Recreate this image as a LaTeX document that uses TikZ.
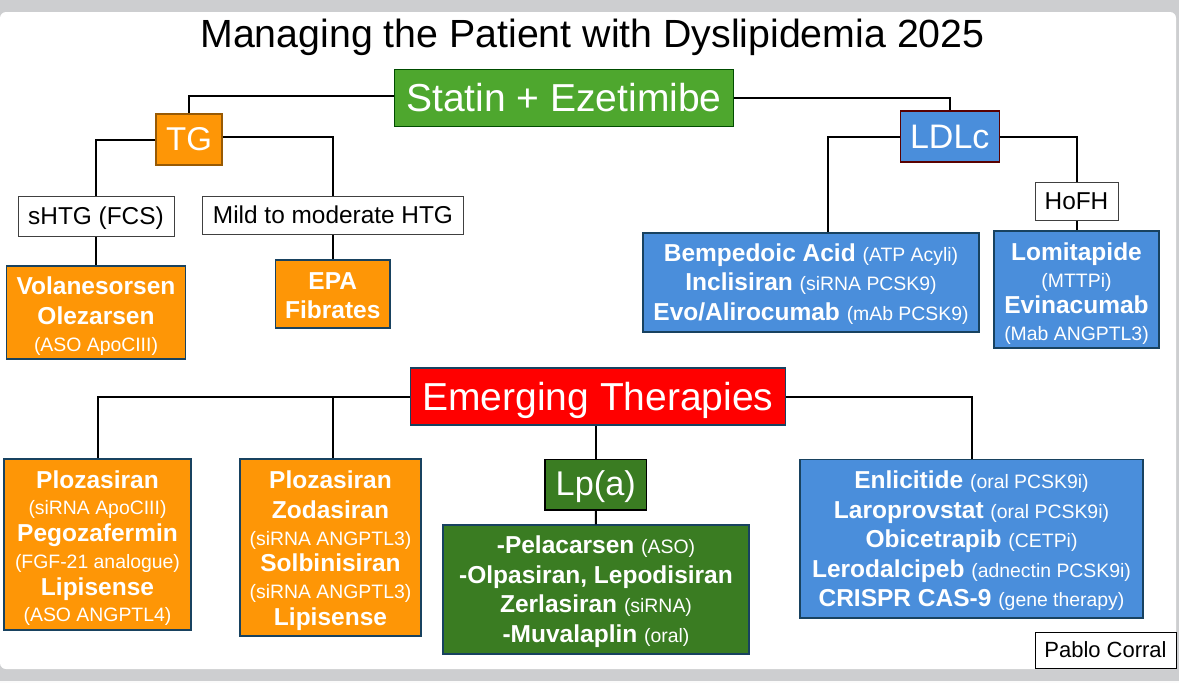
\documentclass[tikz,border=0pt]{standalone}
\usepackage{fontspec}
\setmainfont{Liberation Sans}
\definecolor{bggray}{RGB}{205,206,208}
\definecolor{orangebox}{RGB}{254,150,6}
\definecolor{statingreen}{RGB}{78,167,46}
\definecolor{darkgreen}{RGB}{58,124,34}
\definecolor{bluebox}{RGB}{74,142,219}
\definecolor{edgeblue}{RGB}{24,66,96}
\newcommand{\smtxt}[1]{{\fontsize{19.4}{19.4}\mdseries\selectfont #1}}
\newcommand{\fs}[2]{\fontsize{#1}{#2}\selectfont}
\newcommand{\tup}[1]{\rule{0pt}{#1pt}}
\tikzset{
  x=1pt,y=-1pt,
  box/.style={draw=edgeblue,line width=1.4pt,inner sep=0pt,align=center,text=white},
  drug/.style={box,font=\fs{24.5}{29.6}\bfseries},
  drugtight/.style={box,font=\fs{24.5}{26.7}\bfseries},
  head/.style={box,draw=black!70!green},
  tag/.style={draw=black!75,line width=1pt,fill=white,inner sep=0pt,text=black,font=\fs{24.4}{26}},
  link/.style={draw=black,line width=2pt}
}
\begin{document}
\begin{tikzpicture}
\useasboundingbox (0,0) rectangle (1179,683);
\fill[bggray] (0,0) rectangle (1179,681);
\fill[white!92!bggray] (0,681) rectangle (1179,683);
\fill[white,rounded corners=6pt] (0,12) rectangle (1176,669);
\node[font=\fs{39.3}{42},text=black,inner sep=0pt] (title) at (592.5,37) {Managing the Patient with Dyslipidemia 2025};
\node[head,fill=statingreen,font=\fs{39}{44},minimum width=339pt,minimum height=57pt] (statin) at (564,98) {Statin + Ezetimibe};
\node[head,draw=orangebox!60!black,fill=orangebox,font=\fs{33}{40},minimum width=66pt,minimum height=51pt] (tg) at (189,139.5) {TG};
\node[head,draw=red!35!black,fill=bluebox,font=\fs{34}{40},minimum width=99pt,minimum height=51pt] (ldlc) at (949.75,136.5) {LDLc};
\node[tag,minimum width=156pt,minimum height=40pt] (shtg) at (96,216) {\tup{22}sHTG (FCS)};
\node[tag,minimum width=261pt,minimum height=38pt] (mild) at (333,215) {Mild to moderate HTG};
\node[tag,minimum width=83pt,minimum height=38pt] (hofh) at (1076.5,201) {HoFH};
\node[drug,fill=orangebox,minimum width=179pt,minimum height=93pt] (vol) at (96,312.5) {\tup{25}Volanesorsen\\Olezarsen\\[-3pt]\smtxt{(ASO ApoCIII)}};
\node[drug,fill=orangebox,minimum width=114.5pt,minimum height=68pt] (epa) at (332.75,294) {\tup{20}EPA\\Fibrates};
\node[drug,fill=bluebox,minimum width=336pt,minimum height=99pt] (bemp) at (811,282.5) {\tup{21}Bempedoic Acid \smtxt{(ATP Acyli)}\\Inclisiran \smtxt{(siRNA PCSK9)}\\Evo/Alirocumab \smtxt{(mAb PCSK9)}};
\node[drugtight,fill=bluebox,minimum width=165pt,minimum height=117pt] (lomi) at (1076.5,289.5) {\tup{26}Lomitapide\\\smtxt{(MTTPi)}\\Evinacumab\\\smtxt{(Mab ANGPTL3)}};
\node[head,draw=edgeblue,fill=red,font=\fs{39}{42},minimum width=375pt,minimum height=57pt] (emerg) at (598,396.5) {\tup{36.5}Emerging Therapies};
\node[drugtight,fill=orangebox,minimum width=187pt,minimum height=171pt] (ploa) at (97.5,544.5) {\tup{25}Plozasiran\\\smtxt{(siRNA ApoCIII)}\\Pegozafermin\\\smtxt{(FGF-21 analogue)}\\Lipisense\\\smtxt{(ASO ANGPTL4)}};
\node[drugtight,fill=orangebox,minimum width=181pt,minimum height=177pt] (plob) at (330.5,547.5) {\tup{24}Plozasiran\\[3pt]Zodasiran\\\smtxt{(siRNA ANGPTL3)}\\Solbinisiran\\\smtxt{(siRNA ANGPTL3)}\\Lipisense};
\node[head,draw=black,fill=darkgreen,font=\fs{34.3}{38},minimum width=101.5pt,minimum height=50.5pt] (lpa) at (595.75,484.75) {\tup{29}Lp(a)};
\node[drug,fill=darkgreen,minimum width=306pt,minimum height=129pt] (pela) at (596,589.5) {\tup{22}-Pelacarsen \smtxt{(ASO)}\\-Olpasiran, Lepodisiran\\Zerlasiran \smtxt{(siRNA)}\\-Muvalaplin \smtxt{(oral)}};
\node[drug,fill=bluebox,minimum width=343pt,minimum height=158.5pt] (enli) at (971.5,538.75) {\tup{22}Enlicitide \smtxt{(oral PCSK9i)}\\Laroprovstat \smtxt{(oral PCSK9i)}\\Obicetrapib \smtxt{(CETPi)}\\Lerodalcipeb \smtxt{(adnectin PCSK9i)}\\CRISPR CAS-9 \smtxt{(gene therapy)}};
\node[tag,draw=black,font=\fs{22}{26},minimum width=141pt,minimum height=36pt] (pablo) at (1105.5,650) {Pablo Corral};
\draw[link] ([yshift=2pt]statin.west) -| (tg.north);
\draw[link] (statin.east) -| (ldlc.north);
\draw[link] (tg.west) -| (shtg.north);
\draw[link] ([yshift=2.5pt]tg.east) -| (mild.north);
\draw[link] (shtg.south) -- (vol.north);
\draw[link] (mild.south) -- (mild.south |- epa.north);
\draw[link] (ldlc.west) -| ([xshift=17pt]bemp.north);
\draw[link] (ldlc.east) -| (hofh.north);
\draw[link] (hofh.south) -- (lomi.north);
\draw[link] (emerg.west) -| (ploa.north);
\draw[link] (emerg.west) -| ([xshift=2.5pt]plob.north);
\draw[link] (lpa.north |- emerg.south) -- (lpa.north);
\draw[link] (lpa.south) -- (pela.north);
\draw[link] (emerg.east) -| (enli.north);
\end{tikzpicture}
\end{document}
